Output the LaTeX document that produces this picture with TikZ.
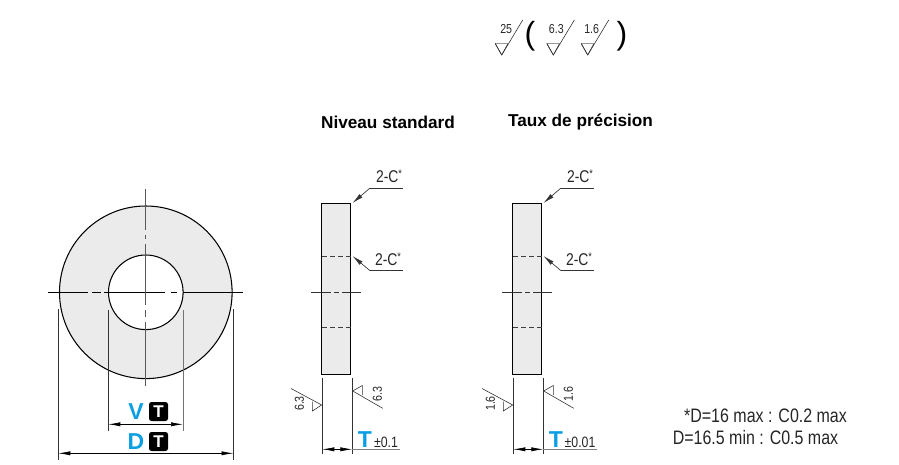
\documentclass[tikz,border=0pt]{standalone}
\usepackage{fontspec}
\setmainfont{Liberation Sans}
\newfontfamily\narrowfont[FakeStretch=0.82]{Liberation Sans}
\usetikzlibrary{arrows.meta}
\definecolor{partgrey}{HTML}{EBEBEB}
\definecolor{tolblue}{HTML}{0A9FE2}
\tikzset{
  x=1pt,y=-1pt,
  outline/.style={draw=black,line width=1.05pt},
  thin line/.style={draw=black!80,line width=0.65pt},
  hidden line/.style={draw=black!75,line width=0.6pt,dash pattern=on 5pt off 3pt},
  dimarrow/.style={draw=black,line width=0.7pt,{Latex[length=12pt,width=4.2pt]}-{Latex[length=12pt,width=4.2pt]}},
  leader/.style={draw=black!80,line width=0.65pt,-{Latex[length=11pt,width=4.5pt]}},
  rough/.style={draw=black!80,line width=0.6pt},
  lbl/.style={inner sep=0pt,font=\narrowfont\fontsize{17}{17}\selectfont,text=black!85},
  small/.style={inner sep=0pt,font=\narrowfont\fontsize{13}{13}\selectfont,text=black!85},
  heading/.style={inner sep=0pt,font=\bfseries\fontsize{17.2}{17}\selectfont},
  bigletter/.style={inner sep=0pt,font=\bfseries\fontsize{23}{23}\selectfont,text=tolblue},
  badge/.style={fill=black,rounded corners=2.5pt,minimum width=19pt,minimum height=19pt,inner sep=0pt,text=white,font=\bfseries\fontsize{17}{17}\selectfont},
}
\newcommand{\sideview}[3]{%
  \begin{scope}[xshift=#1pt]
    \draw[outline,fill=partgrey] (321.8,203.5) rectangle (350.8,374.5);
    \draw[hidden line] (322,256) -- (351,256);
    \draw[hidden line] (322,327) -- (351,327);
    \draw[thin line] (311,292.3) -- (331,292.3) (334,292.3) -- (339,292.3) (342,292.3) -- (361,292.3);
    \draw[leader] (370,188) -- (352.5,203);
    \draw[thin line] (370,188) -- (403,188);
    \node[lbl] (ca#1) at (389,176.5) {2-C\raisebox{5pt}{\fontsize{11}{11}\selectfont *}};
    \draw[leader] (370,270.7) -- (352.5,256);
    \draw[thin line] (370,270.7) -- (403,270.7);
    \node[lbl] (cb#1) at (388,259.5) {2-C\raisebox{5pt}{\fontsize{11}{11}\selectfont *}};
    \draw[thin line] (322.3,378) -- (322.3,454);
    \draw[thin line] (352.3,378) -- (352.3,454);
    \draw[dimarrow] (322.3,449.3) -- (352.3,449.3);
    \draw[thin line,draw=black!50,line width=1pt] (352.3,449.3) -- (#3,449.3);
    \draw[rough] (291,388.5) -- (321.7,405) -- (312.3,411) -- (312.3,401.5);
    \draw[rough] (382.7,408.3) -- (352.7,391) -- (362.3,385.5) -- (362.3,395);
    \node[small,rotate=90] (ra#1) at (299.5,403.5) {#2};
    \node[small,rotate=90] (rb#1) at (377.5,394) {#2};
    \node[bigletter] (t#1) at (365,440) {T};
  \end{scope}}
\newcommand{\roughsym}[3]{%
  \draw[draw=black!40,line width=1pt] (#1-6.5,43.5) -- (#1+6.5,43.5);
  \draw[rough] (#1-6.5,43.5) -- (#1,55) -- (#1+21,20);
  \draw[rough] (#1+6,44) -- (#1,55);
  \draw[rough] (#1-6.5,43.5) -- (#1,55);
  \node[small] (rs#3) at (#1+#3,29.5) {#2};}
\begin{document}
\begin{tikzpicture}
\useasboundingbox (0,0) rectangle (899,465);
% front view
\draw[outline,fill=partgrey,even odd rule] (145.8,292.3) circle[radius=86.3] (145.8,292.3) circle[radius=37.3];
\draw[draw=black,line width=0.8pt] (48,292.3) -- (88,292.3) (92,292.3) -- (101,292.3) (104,292.3) -- (165,292.3) (171,292.3) -- (177,292.3) (183,292.3) -- (243,292.3);
\draw[draw=black!65,line width=0.8pt] (145.8,189) -- (145.8,230) (145.8,235) -- (145.8,239) (145.8,244) -- (145.8,305) (145.8,310) -- (145.8,317) (145.8,322) -- (145.8,386);
\draw[thin line] (108.3,310) -- (108.3,431);
\draw[draw=black!55,line width=0.8pt] (183,310) -- (183,431);
\draw[thin line] (58.3,309) -- (58.3,460);
\draw[thin line] (233.5,309) -- (233.5,460);
\draw[dimarrow] (108.3,424.3) -- (183,424.3);
\draw[dimarrow] (58.3,453.3) -- (233.5,453.3);
\node[bigletter] (V) at (136,411.5) {V};
\node[badge] (VT) at (158.5,411.5) {T};
\node[bigletter] (D) at (136,442) {D};
\node[badge] (DT) at (158.5,441.5) {T};
% side views
\sideview{0}{6.3}{400}
\sideview{191}{1.6}{406}
\node[small] (tol1) at (386,442) {\fontsize{15}{15}\selectfont ±0.1};
\node[small] (tol2) at (580,442) {\fontsize{15}{15}\selectfont ±0.01};
% headings
\node[heading] (h1) at (388,122) {Niveau standard};
\node[heading] (h2) at (580.5,122) {Taux de précision};
% roughness legend
\roughsym{501.7}{25}{4.5}
\roughsym{553.3}{6.3}{3}
\roughsym{587.7}{1.6}{4}
\node[inner sep=0pt,font=\fontsize{32}{32}\selectfont,text=black] (po) at (530,36) {(};
\node[inner sep=0pt,font=\fontsize{32}{32}\selectfont,text=black] (pc) at (622,36) {)};
% note
\node[lbl,font=\narrowfont\fontsize{19.5}{19}\selectfont] (n1) at (765.5,415.5) {*D=16 max : C0.2 max};
\node[lbl,font=\narrowfont\fontsize{19.5}{19}\selectfont] (n2) at (755.5,437.5) {D=16.5 min : C0.5 max};
\end{tikzpicture}
\end{document}
